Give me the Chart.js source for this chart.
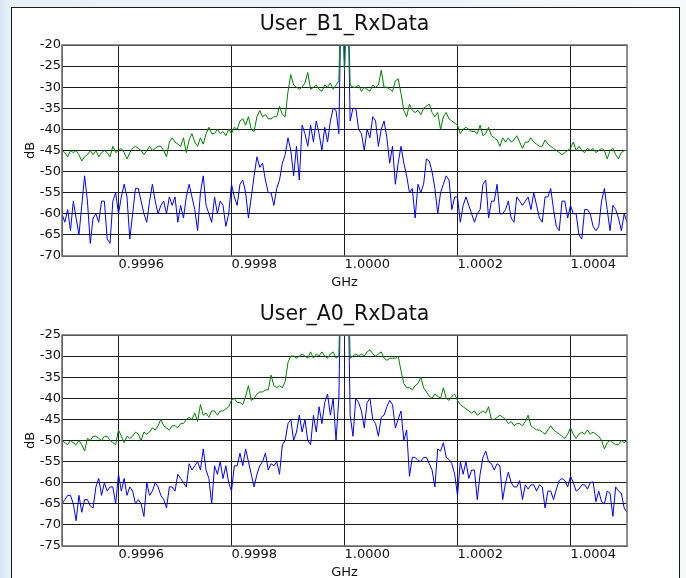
<!DOCTYPE html>
<html>
<head>
<meta charset="utf-8">
<script src="https://cdn.jsdelivr.net/npm/chart.js@4/dist/chart.umd.min.js"></script>
<style>
html,body{margin:0;padding:0;width:686px;height:578px;overflow:hidden;}
body{position:relative;background:linear-gradient(90deg,#d8e6f2 0px,#e2edf6 6px,#e9f1f8 11px,#eef4f9 400px,#f6f9fb 686px);}
#rightstrip{position:absolute;left:680px;top:0;width:6px;height:578px;background:#f7f9fb;}
#frame{position:absolute;left:11px;top:7px;width:667px;height:600px;background:#ffffff;border:1px solid #1a1a1a;border-bottom:none;}
canvas{position:absolute;left:0;}
</style>
</head>
<body>
<div id="rightstrip"></div>
<div id="frame"></div>
<canvas id="c1" width="686" height="290" style="top:0px;width:686px;height:290px"></canvas>
<canvas id="c2" width="686" height="290" style="top:290px;width:686px;height:290px"></canvas>
<script>
// ---- frequency axis (GHz) ----
const F_START = 0.9995;
const F_STEP = 0.000005;
const F_COUNT = 201;
const FREQ = [];
for (let i = 0; i < F_COUNT; i++) FREQ.push(+(F_START + i * F_STEP).toFixed(6));

const X_MIN = 0.9995, X_MAX = 1.0005;
const X_TICKS = [0.9996, 0.9998, 1.0000, 1.0002, 1.0004];
const Y_TICKS_B1 = [-70, -65, -60, -55, -50, -45, -40, -35, -30, -25, -20];
const Y_TICKS_A0 = [-75, -70, -65, -60, -55, -50, -45, -40, -35, -30, -25];

const TITLE_B1 = 'User_B1_RxData';
const TITLE_A0 = 'User_A0_RxData';

// ---- User_B1_RxData (dB) ----
const B1_GREEN = [
 -45,-45.5,-46.5,-45,-45.5,-45,-46,-47.5,-46.5,-46,
 -45,-46,-45,-46.5,-45.5,-45,-45.5,-46.5,-44,-45.5,
 -45,-44.5,-45.5,-47,-45.5,-44.5,-44,-44.5,-45,-46,
 -45,-44,-45,-44.5,-44,-44,-45,-46.5,-43,-42,
 -43,-43.5,-44,-42,-45.5,-42.5,-41,-43,-44,-42,
 -43.5,-41,-39.5,-41,-41,-40,-41,-40.5,-41.5,-40,
 -41,-39.5,-40,-38,-37.5,-39,-37,-40,-40.5,-37,
 -35.5,-37,-36.5,-37.5,-37.5,-37,-37,-34.5,-36.5,-37,
 -31,-27,-29.5,-30,-30.5,-30,-29,-26.5,-30.5,-30,
 -29.5,-30.5,-31,-29.5,-30,-29,-30.5,-29.5,-28.5,0,
 -26,0,-29.5,-30,-30,-29.5,-31,-30,-30.5,-31,
 -29.5,-30,-29.5,-26,-30,-30,-30.5,-31,-28.5,-28,
 -31.5,-35.5,-37,-34,-35.5,-36,-35.5,-36.5,-35,-34.5,
 -34,-36,-37,-36,-40,-37,-36,-37.5,-38,-38.5,
 -39,-41,-40,-39.5,-40,-40.5,-40.5,-41,-39,-41.5,
 -41,-39.5,-41.5,-42,-42.5,-44,-42,-43,-42,-43,
 -42.5,-41.5,-43,-44.5,-43,-43,-42,-43,-43.5,-44,
 -44,-42.5,-43.5,-44,-44.5,-45,-45.5,-46,-45.5,-45,
 -44.5,-43,-45,-44,-45,-45.5,-44.5,-45,-44.5,-45.5,
 -45,-44.5,-45,-47,-45,-44.5,-46,-47,-45.5,-45,
 -45
];
const B1_BLUE = [
 -60,-62,-59,-64,-57,-61,-65,-58,-51,-57,
 -67,-61,-60,-62,-57,-57,-66,-67,-57,-55,
 -60,-56,-53,-56,-66,-60,-54,-54,-57,-60,
 -62,-57,-53,-57,-60,-58,-57,-60,-56,-58,
 -56,-62,-58,-61,-56,-53,-56,-59,-64,-55,
 -51,-58,-60,-62,-56,-60,-57,-58,-63,-60,
 -53,-56,-58,-53,-52,-55,-61,-56,-51,-46.5,
 -49,-48,-52,-55,-55,-58,-54,-52,-48,-46,
 -42,-45,-51,-44,-52,-39,-41,-44,-39,-43,
 -38,-41,-45,-39.5,-43,-38,-35,-35.5,-41,0,
 -26,0,-38,-35,-35,-40,-41,-45,-40,-42,
 -37,-38,-44,-40,-38,-42,-48,-44,-53,-48,
 -44,-48,-51,-55,-54,-61,-53,-55,-53,-47,
 -47.5,-50,-54,-60,-55,-53,-51,-52,-59,-56,
 -56,-62,-58,-56,-58,-60,-62,-60,-59,-53,
 -52,-61,-57,-57,-53,-60,-60,-59,-57,-61,
 -62,-56,-57,-58,-57,-56,-59,-55,-58,-61,
 -62,-56,-56,-54,-59,-63,-64,-57,-57,-61,
 -58,-60,-60,-65,-66,-59,-59,-60,-63,-64,
 -63,-57,-54,-59,-64,-58,-59,-61,-64,-60,
 -62
];

// ---- User_A0_RxData (dB) ----
const A0_GREEN = [
 -50,-50.5,-51,-50,-50.5,-51,-50,-51,-52.5,-49.5,
 -50,-49,-49,-49.5,-50,-49,-49,-50,-50.5,-51,
 -47.5,-49,-50.5,-49,-49.5,-49,-48,-48.5,-50,-48,
 -48.5,-48,-47,-47.5,-46.5,-45,-46.5,-47,-47.5,-46.5,
 -46.5,-47,-46,-46,-45,-44.5,-45,-43.5,-45.5,-41.5,
 -44,-43.5,-44.5,-43,-43,-44,-43,-43,-42.5,-42,
 -40.5,-40,-41,-41,-41.5,-39.5,-37,-40.5,-40,-39,
 -38.5,-38.5,-38,-38,-34.5,-37,-37.5,-37,-37.5,-36,
 -31.5,-30,-30,-30.5,-30,-29.5,-30,-30.5,-29,-30.5,
 -29.5,-30,-29,-30,-30.5,-29.5,-29,-30.5,-30,0,
 -10,0,-30.5,-30,-29.5,-30,-29.5,-30,-29,-28.5,
 -29.5,-30,-29.5,-29,-30.5,-31,-30.5,-30.5,-30.5,-30,
 -33.5,-36.5,-37.5,-37.5,-38,-37,-36.5,-35,-37.5,-38.5,
 -39.5,-40,-39,-39.5,-40,-37.5,-40,-40.5,-39.5,-39,
 -40.5,-41.5,-42,-42.5,-43,-43.5,-43,-44,-43.5,-43,
 -43.5,-42,-45,-45,-44.5,-44,-44.5,-45,-46,-45.5,
 -46.5,-46,-46,-46.5,-45.5,-44,-46.5,-47,-47.5,-47.5,
 -48,-48.5,-47.5,-46.5,-47.5,-48,-48.5,-49,-49.5,-48.5,
 -47,-48.5,-49.5,-48.5,-48,-48.5,-47.5,-48.5,-48,-48.5,
 -49,-50,-52,-50.5,-50,-50.5,-51,-51,-50,-50.5,
 -50
];
const A0_BLUE = [
 -65,-64,-63,-63,-65,-69,-63,-67,-64,-64,
 -65.5,-66,-61,-59,-63,-60,-62,-61,-61,-65,
 -58,-62,-59,-63,-61,-62,-65,-64,-65,-68,
 -60,-63,-62,-60,-61,-63,-64,-66,-61,-61,
 -62,-58,-59,-60,-61,-55.5,-57,-56,-55,-57,
 -52,-57,-59,-65,-56,-58,-55,-59,-56,-60,
 -62,-56,-56,-53,-56,-52,-55,-58,-61,-58,
 -56,-55,-53,-57,-55.5,-56,-55,-58,-51,-50,
 -46,-45,-50,-48,-44,-48,-45,-50,-51,-44,
 -48,-42,-46,-41,-39,-44,-40,-50,-40,0,
 -10,0,-44,-49,-40,-41,-43,-47,-41,-40,
 -45,-46,-49,-44.5,-44,-42,-40.5,-41.5,-47,-45,
 -43,-50,-47.5,-58.5,-54,-54,-54.7,-55,-54,-54,
 -55.5,-57,-61,-52,-52.5,-50.5,-54,-54.5,-55.5,-58,
 -63,-55,-58,-55,-59,-57,-57,-64,-58,-54,
 -52.5,-55,-55.5,-57,-55.5,-56,-64,-60,-57.5,-60,
 -61,-61,-59.5,-64,-60.5,-61.5,-60.5,-60.5,-62,-60.5,
 -61,-66,-62,-62,-64,-61.5,-59.5,-59,-59.5,-61,
 -58.5,-60,-62,-61.5,-60.5,-60.5,-61.5,-60,-59.8,-64.5,
 -62,-64.5,-65,-62,-62.5,-68,-61,-62,-62.5,-66,
 -67
];

const GREEN = '#008000';
const BLUE = '#0000ff';
const FONT = 'DejaVu Sans';

const plotFrame = {
  id: 'plotFrame',
  afterDatasetsDraw(chart) {
    const {ctx, chartArea: a} = chart;
    ctx.save();
    ctx.strokeStyle = '#6a6a6a';
    ctx.lineWidth = 1.5;
    ctx.strokeRect(a.left, a.top, a.right - a.left, a.bottom - a.top);
    ctx.restore();
  }
};

function makeChart(id, title, green, blue, yMin, yMax, yTicks) {
  const pts = arr => FREQ.map((f, i) => ({x: f, y: arr[i]}));
  return new Chart(document.getElementById(id), {
    type: 'line',
    data: {
      datasets: [
        {label: 'Green', data: pts(green), borderColor: GREEN, borderWidth: 1, pointRadius: 0, tension: 0},
        {label: 'Blue', data: pts(blue), borderColor: BLUE, borderWidth: 1, pointRadius: 0, tension: 0}
      ]
    },
    options: {
      responsive: false,
      animation: false,
      devicePixelRatio: 1,
      layout: {padding: {left: 12, right: 59, top: 0, bottom: 0}},
      plugins: {
        legend: {display: false},
        tooltip: {enabled: false},
        title: {
          display: true, text: title, color: '#111', fullSize: false,
          font: {family: FONT, size: 20.5, weight: 'normal', lineHeight: 1.2},
          padding: {top: 12.2, bottom: 8.2}
        }
      },
      scales: {
        x: {
          type: 'linear', min: X_MIN, max: X_MAX,
          afterBuildTicks: s => { s.ticks = X_TICKS.map(v => ({value: v})); },
          afterFit: s => { s.height = 34; },
          grid: {color: '#1a1a1a', lineWidth: 1, drawTicks: false},
          border: {color: '#555', width: 1},
          ticks: {
            align: 'start', maxRotation: 0, minRotation: 0, autoSkip: false, padding: 1,
            color: '#111', font: {family: FONT, size: 13},
            callback: v => Number(v).toFixed(4)
          },
          title: {display: true, text: 'GHz', color: '#111', font: {family: FONT, size: 13}, padding: {top: 0, bottom: 0}}
        },
        y: {
          min: yMin, max: yMax,
          afterBuildTicks: s => { s.ticks = yTicks.map(v => ({value: v})); },
          afterFit: s => { s.width = 50; },
          grid: {color: '#1a1a1a', lineWidth: 1, drawTicks: false},
          border: {color: '#555', width: 1},
          ticks: {padding: 1, color: '#111', font: {family: FONT, size: 13}, callback: v => String(v)},
          title: {display: true, text: 'dB', color: '#111', font: {family: FONT, size: 13}, padding: {top: 11, bottom: 0}}
        }
      }
    },
    plugins: [plotFrame]
  });
}

makeChart('c1', TITLE_B1, B1_GREEN, B1_BLUE, -70, -20, Y_TICKS_B1);
makeChart('c2', TITLE_A0, A0_GREEN, A0_BLUE, -75, -25, Y_TICKS_A0);
</script>
</body>
</html>
